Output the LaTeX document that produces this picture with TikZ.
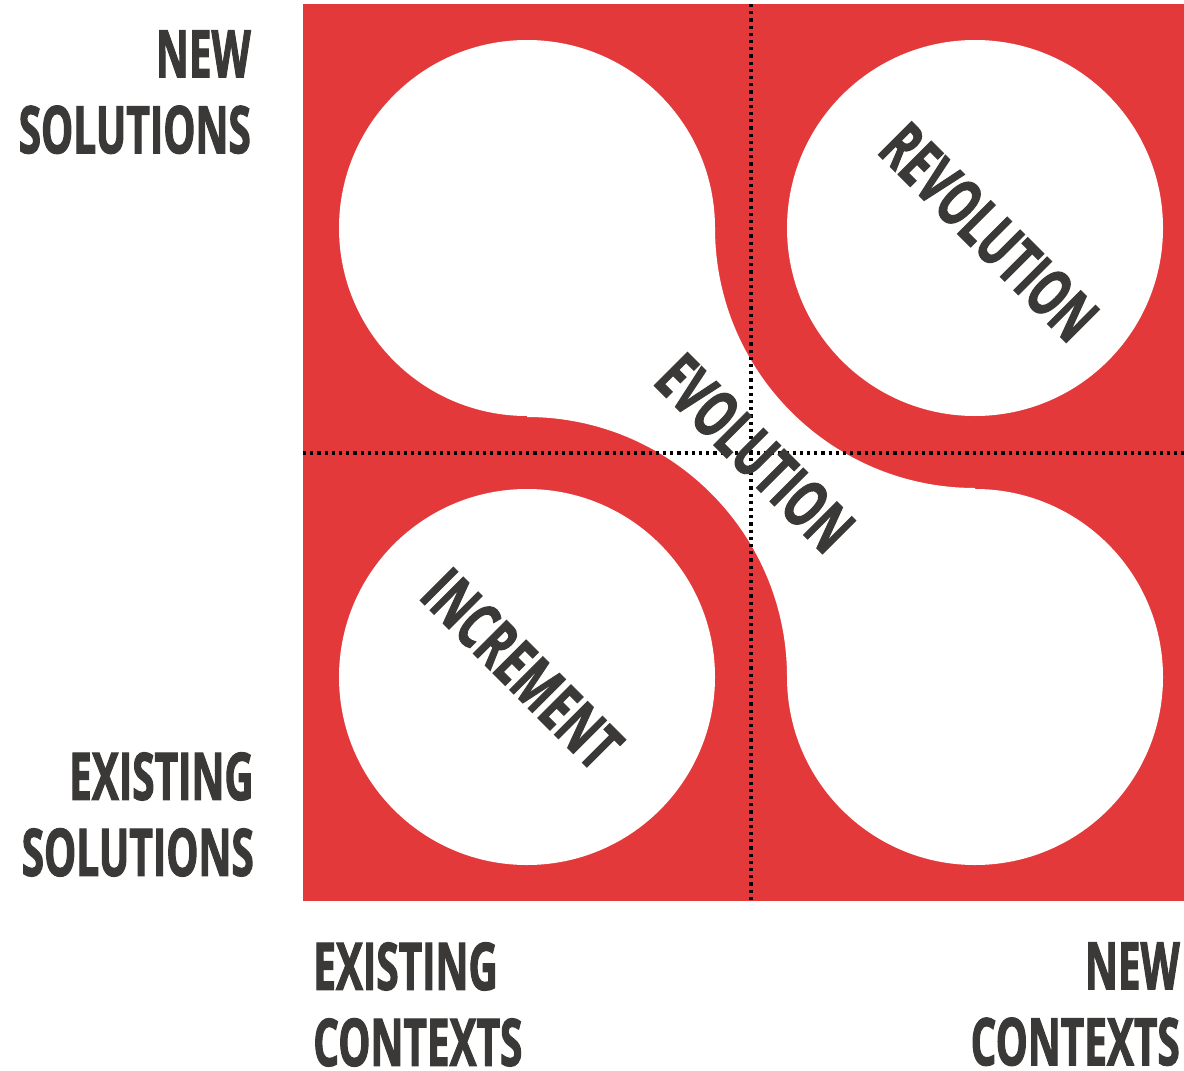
\documentclass[tikz,border=0pt]{standalone}
\usepackage{fontspec}
\newfontfamily\quadfont[FakeStretch=0.615,BoldFeatures={FakeBold=1.5}]{Open Sans}
\newfontfamily\modefont[FakeStretch=0.64,BoldFeatures={FakeBold=1.5}]{Open Sans}
\usetikzlibrary{positioning}
\definecolor{quadred}{RGB}{227,57,58}
\definecolor{inkgray}{RGB}{58,57,56}

\begin{document}
\begin{tikzpicture}[x=0.75pt,y=-0.75pt,
    axis text/.style={font=\quadfont\bfseries\fontsize{49.4}{57}\selectfont,text=inkgray,inner sep=0pt},
    mode text/.style={font=\modefont\bfseries\fontsize{49.4}{57}\selectfont,text=inkgray,inner sep=0pt,rotate=-45},
    split/.style={line width=2.4pt,dash pattern=on 2.4pt off 3pt}]
  \useasboundingbox (0,0) rectangle (1184,1070);
  % centres of the four discs
  \coordinate (tl) at (527,228);
  \coordinate (tr) at (975,228);
  \coordinate (bl) at (527,677);
  \coordinate (br) at (975,677);
  \fill[quadred] (303,4) rectangle (1184,901);
  % the neck between the two white discs
  \fill[white] (tl) -- (715,228) arc[start angle=180,end angle=90,radius=260]
    -- (br) -- (787,677) arc[start angle=0,end angle=-90,radius=260] -- cycle;
  \foreach \c in {tl,tr,bl,br}
    \fill[white] (\c) circle[radius=188];
  \draw[split] (751,4) -- (751,901);
  \draw[split] (303,453) -- (1184,453);
  % axis labels
  \node[axis text,align=right,anchor=north east] (newsol) at (251,30) {NEW\\SOLUTIONS};
  \node[axis text,align=right,anchor=north east] (oldsol) at (254,752) {EXISTING\\SOLUTIONS};
  \node[axis text,align=left,anchor=north west] (oldctx) at (313,942) {EXISTING\\CONTEXTS};
  \node[axis text,align=right,anchor=north east] (newctx) at (1180,942) {NEW\\CONTEXTS};
  % quadrant labels
  \node[mode text] (revolution) at (989,232) {REVOLUTION};
  \node[mode text] (evolution) at (755,453) {EVOLUTION};
  \node[mode text] (increment) at (522,669) {INCREMENT};
\end{tikzpicture}
\end{document}
